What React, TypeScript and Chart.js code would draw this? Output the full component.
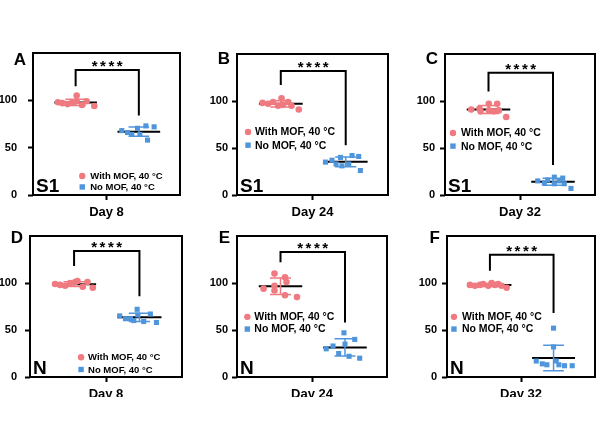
import React, { useEffect, useRef } from 'react';
import { Chart, registerables } from 'chart.js';

Chart.register(...registerables);

const FONT = "'Liberation Sans', Arial, Helvetica, sans-serif";

// ---------- text ----------
const PANEL_LETTERS = ['A', 'B', 'C', 'D', 'E', 'F'];
const SAMPLES = ['S1', 'S1', 'S1', 'N', 'N', 'N'];
const DAYS = ['Day 8', 'Day 24', 'Day 32', 'Day 8', 'Day 24', 'Day 32'];
const SERIES = ['With MOF, 40 °C', 'No MOF, 40 °C'];
const Y_TICKS = [0, 50, 100];
const STARS = '****';

// ---------- values (%) ----------
const WITH_A = [98, 97, 96, 97.5, 105, 99, 95, 99, 94];
const NO_A = [68, 66, 64, 70.5, 64, 73, 58, 72];
const WITH_B = [98, 97, 99, 95, 103, 96, 99, 95, 91];
const NO_B = [35, 37, 33, 40, 31, 33, 42, 41, 26];
const WITH_C = [91, 92, 89, 97, 90, 89, 97, 90, 83];
const NO_C = [15, 13, 16, 19, 12, 15, 18, 12, 7];
const WITH_D = [99, 98, 97, 100, 101, 102, 96, 101, 95];
const NO_D = [65, 62, 62, 60, 72, 66, 59, 67, 58];
const WITH_E = [94, 110, 97, 92, 106, 101, 87, 85];
const NO_E = [30, 33, 25, 47, 35, 22, 40, 20];
const WITH_F = [98, 97, 98, 99, 97, 100, 98, 99, 97, 95];
const NO_F = [17, 14, 13, 52, 32, 17, 13, 12, 12];

// horizontal scatter offset of each dot (fraction of the x axis)
const JIT_WITH_A = [-0.12, -0.09, -0.055, -0.025, 0.007, 0.007, 0.043, 0.075, 0.127];
const JIT_NO_A = [-0.116, -0.077, -0.048, -0.009, 0.007, 0.048, 0.059, 0.104];
const JIT_WITH_B = [-0.121, -0.084, -0.051, -0.018, 0.005, 0.015, 0.048, 0.071, 0.119];
const JIT_NO_B = [-0.134, -0.091, -0.064, -0.035, -0.025, 0.02, 0.042, 0.086, 0.097];
const JIT_WITH_C = [-0.115, -0.06, -0.053, 0.002, 0.002, 0.035, 0.058, 0.069, 0.118];
const JIT_NO_C = [-0.102, -0.058, -0.035, 0.009, 0.009, 0.042, 0.065, 0.075, 0.12];
const JIT_WITH_D = [-0.125, -0.092, -0.059, -0.026, 0.007, 0.022, 0.057, 0.088, 0.123];
const JIT_NO_D = [-0.13, -0.092, -0.059, -0.037, -0.015, -0.011, 0.028, 0.072, 0.112];
const JIT_WITH_E = [-0.113, -0.04, -0.04, -0.04, 0.03, 0.04, 0.03, 0.11];
const JIT_NO_E = [-0.125, -0.08, -0.042, -0.007, 0, 0.027, 0.065, 0.098];
const JIT_WITH_F = [-0.135, -0.101, -0.068, -0.045, -0.011, 0.011, 0.034, 0.056, 0.079, 0.113];
const JIT_NO_F = [-0.117, -0.076, -0.045, 0, 0, 0.018, 0.036, 0.074, 0.126];

// significance bracket: [top, left leg end, right leg end]
const BRACKET_A = [132, 115, 84];
const BRACKET_B = [132, 117, 53];
const BRACKET_C = [130, 110, 32];
const BRACKET_D = [134, 118, 86];
const BRACKET_E = [133, 122, 58];
const BRACKET_F = [130, 113, 68];

// ---------- styles / layout ----------
const GROUP_X = [0.29, 0.72];
const COLORS = ['#EF7A80', '#4F95DC'];
const MEAN_HALF = 0.145;
const CAP_HALF = 0.07;

type Rect = { x: number; y: number; w: number; h: number };
type Area = { l: number; r: number; t: number; b: number };

const PANELS = [
  { vals: [WITH_A, NO_A], jit: [JIT_WITH_A, JIT_NO_A], br: BRACKET_A,
    canvas: { x: 0, y: 40, w: 200, h: 185 }, area: { l: 33, r: 180, t: 53, b: 195 },
    legend: { x: 0.335, y: [20, 8.5], size: 9.5, gap: 8 }, letterOff: 12, tickPad: 11 },
  { vals: [WITH_B, NO_B], jit: [JIT_WITH_B, JIT_NO_B], br: BRACKET_B,
    canvas: { x: 200, y: 40, w: 200, h: 185 }, area: { l: 237, r: 388, t: 54, b: 195 },
    legend: { x: 0.073, y: [67, 53], size: 10.5, gap: 7 }, letterOff: 10, tickPad: 4 },
  { vals: [WITH_C, NO_C], jit: [JIT_WITH_C, JIT_NO_C], br: BRACKET_C,
    canvas: { x: 400, y: 40, w: 200, h: 185 }, area: { l: 445, r: 595, t: 54, b: 195 },
    legend: { x: 0.053, y: [66, 52], size: 10.5, gap: 8 }, letterOff: 10, tickPad: 5 },
  { vals: [WITH_D, NO_D], jit: [JIT_WITH_D, JIT_NO_D], br: BRACKET_D,
    canvas: { x: 0, y: 225, w: 200, h: 172 }, area: { l: 30, r: 182, t: 236, b: 377 },
    legend: { x: 0.336, y: [21, 8], size: 9.5, gap: 7 }, letterOff: 7, tickPad: 8 },
  { vals: [WITH_E, NO_E], jit: [JIT_WITH_E, JIT_NO_E], br: BRACKET_E,
    canvas: { x: 200, y: 225, w: 200, h: 172 }, area: { l: 237, r: 387, t: 236, b: 377 },
    legend: { x: 0.069, y: [64, 51], size: 10.5, gap: 7 }, letterOff: 7, tickPad: 4 },
  { vals: [WITH_F, NO_F], jit: [JIT_WITH_F, JIT_NO_F], br: BRACKET_F,
    canvas: { x: 400, y: 225, w: 200, h: 172 }, area: { l: 447, r: 595, t: 236, b: 377 },
    legend: { x: 0.047, y: [64, 51], size: 10.5, gap: 8 }, letterOff: 7, tickPad: 5 },
];

function mean(a: number[]) {
  return a.reduce((s, v) => s + v, 0) / a.length;
}
function sd(a: number[]) {
  const m = mean(a);
  return Math.sqrt(a.reduce((s, v) => s + (v - m) * (v - m), 0) / (a.length - 1));
}

function overlay(idx: number) {
  const p = PANELS[idx];
  return {
    id: 'overlay' + idx,
    beforeDatasetsDraw(chart: any) {
      const { ctx, chartArea: a } = chart;
      ctx.save();
      ctx.strokeStyle = '#000';
      ctx.lineWidth = 2;
      ctx.strokeRect(a.left, a.top, a.right - a.left, a.bottom - a.top);
      ctx.restore();
    },
    afterDatasetsDraw(chart: any) {
      const { ctx, chartArea: a, scales } = chart;
      const x = scales.x;
      const y = scales.y;
      ctx.save();
      ctx.fillStyle = '#000';
      // stars
      ctx.font = `bold 15px ${FONT}`;
      ctx.textAlign = 'center';
      ctx.textBaseline = 'alphabetic';
      (ctx as any).letterSpacing = '2.5px';
      const cx = (x.getPixelForValue(GROUP_X[0]) + x.getPixelForValue(GROUP_X[1])) / 2;
      ctx.fillText(STARS, cx + 1.2, y.getPixelForValue(p.br[0]) + 1);
      (ctx as any).letterSpacing = '0px';
      // sample label
      ctx.font = `bold 19px ${FONT}`;
      ctx.textAlign = 'left';
      ctx.fillText(SAMPLES[idx], a.left + 3, a.bottom - 3);
      // panel letter
      ctx.font = `bold 17px ${FONT}`;
      ctx.textAlign = 'right';
      ctx.fillText(PANEL_LETTERS[idx], a.left - 7, a.top + p.letterOff);
      // legend
      ctx.font = `bold ${p.legend.size}px ${FONT}`;
      ctx.textAlign = 'left';
      ctx.textBaseline = 'middle';
      SERIES.forEach((name, s) => {
        const mx = x.getPixelForValue(p.legend.x);
        const my = y.getPixelForValue(p.legend.y[s]);
        ctx.fillStyle = COLORS[s];
        if (s === 0) {
          ctx.beginPath();
          ctx.arc(mx, my, 3.2, 0, Math.PI * 2);
          ctx.fill();
        } else {
          ctx.fillRect(mx - 2.7, my - 2.7, 5.4, 5.4);
        }
        ctx.fillStyle = '#000';
        ctx.fillText(name, mx + p.legend.gap, my + 0.5);
      });
      ctx.restore();
    },
  };
}

function buildConfig(idx: number) {
  const p = PANELS[idx];
  const c: Rect = p.canvas;
  const ar: Area = p.area;
  const datasets: any[] = [];
  p.vals.forEach((vals, g) => {
    const cx = GROUP_X[g];
    const m = mean(vals);
    const s = sd(vals);
    datasets.push({
      type: 'scatter',
      data: vals.map((v, i) => ({ x: cx + p.jit[g][i], y: v })),
      pointStyle: g === 0 ? 'circle' : 'rect',
      pointRadius: g === 0 ? 3.3 : 3.6,
      pointHoverRadius: g === 0 ? 3.3 : 3.6,
      backgroundColor: COLORS[g],
      borderWidth: 0,
      order: 1,
    });
    datasets.push({
      type: 'line',
      showLine: true,
      data: [{ x: cx - MEAN_HALF, y: m }, { x: cx + MEAN_HALF, y: m }],
      borderColor: '#000',
      borderWidth: 2,
      pointRadius: 0,
      order: 2,
    });
    datasets.push({
      type: 'line',
      showLine: true,
      spanGaps: false,
      data: [
        { x: cx - CAP_HALF, y: m + s }, { x: cx + CAP_HALF, y: m + s }, { x: cx, y: null },
        { x: cx, y: m + s }, { x: cx, y: m - s }, { x: cx, y: null },
        { x: cx - CAP_HALF, y: m - s }, { x: cx + CAP_HALF, y: m - s },
      ],
      borderColor: COLORS[g],
      borderWidth: 1.5,
      pointRadius: 0,
      order: 0,
    });
  });
  datasets.push({
    type: 'line',
    showLine: true,
    data: [
      { x: GROUP_X[0], y: p.br[1] }, { x: GROUP_X[0], y: p.br[0] },
      { x: GROUP_X[1], y: p.br[0] }, { x: GROUP_X[1], y: p.br[2] },
    ],
    borderColor: '#000',
    borderWidth: 2,
    pointRadius: 0,
    order: 0,
  });

  const tickFont = { family: FONT, size: 11, weight: 'bold' as const };
  return {
    type: 'scatter' as const,
    data: { datasets },
    plugins: [overlay(idx)],
    options: {
      responsive: false,
      animation: false as const,
      devicePixelRatio: 1,
      events: [],
      layout: {
        padding: { left: 0, top: ar.t - c.y, right: c.x + c.w - ar.r, bottom: 0 },
      },
      plugins: { legend: { display: false }, tooltip: { enabled: false } },
      scales: {
        x: {
          type: 'linear' as const,
          min: 0,
          max: 1,
          afterBuildTicks: (sc: any) => { sc.ticks = [{ value: 0.5 }]; },
          afterFit: (sc: any) => {
            sc.height = c.y + c.h - ar.b;
            sc.paddingLeft = 0;
            sc.paddingRight = 0;
          },
          ticks: {
            callback: () => DAYS[idx],
            font: { family: FONT, size: 13, weight: 'bold' as const },
            color: '#000',
            padding: 5,
            maxRotation: 0,
          },
          grid: { display: true, drawOnChartArea: false, tickLength: 5, tickWidth: 2, tickColor: '#000' },
          border: { display: false },
        },
        y: {
          type: 'linear' as const,
          min: 0,
          max: 150,
          afterBuildTicks: (sc: any) => { sc.ticks = Y_TICKS.map((v) => ({ value: v })); },
          afterFit: (sc: any) => {
            sc.width = ar.l - c.x;
            sc.paddingTop = 0;
            sc.paddingBottom = 0;
          },
          ticks: {
            callback: (v: any) => String(v),
            font: tickFont,
            color: '#000',
            padding: p.tickPad,
          },
          grid: { display: true, drawOnChartArea: false, tickLength: 5, tickWidth: 2, tickColor: '#000' },
          border: { display: false },
        },
      },
    },
  };
}

function Panel({ idx }: { idx: number }) {
  const ref = useRef<HTMLCanvasElement | null>(null);
  const c = PANELS[idx].canvas;
  useEffect(() => {
    if (!ref.current) return;
    const chart = new Chart(ref.current, buildConfig(idx) as any);
    return () => chart.destroy();
  }, [idx]);
  return (
    <canvas
      ref={ref}
      width={c.w}
      height={c.h}
      style={{ position: 'absolute', left: c.x, top: c.y, width: c.w, height: c.h }}
    />
  );
}

export default function App() {
  return (
    <div
      style={{
        position: 'fixed',
        left: 0,
        top: 0,
        width: 600,
        height: 447,
        background: '#fff',
        overflow: 'hidden',
      }}
    >
      {PANELS.map((_, i) => (
        <Panel key={i} idx={i} />
      ))}
    </div>
  );
}
